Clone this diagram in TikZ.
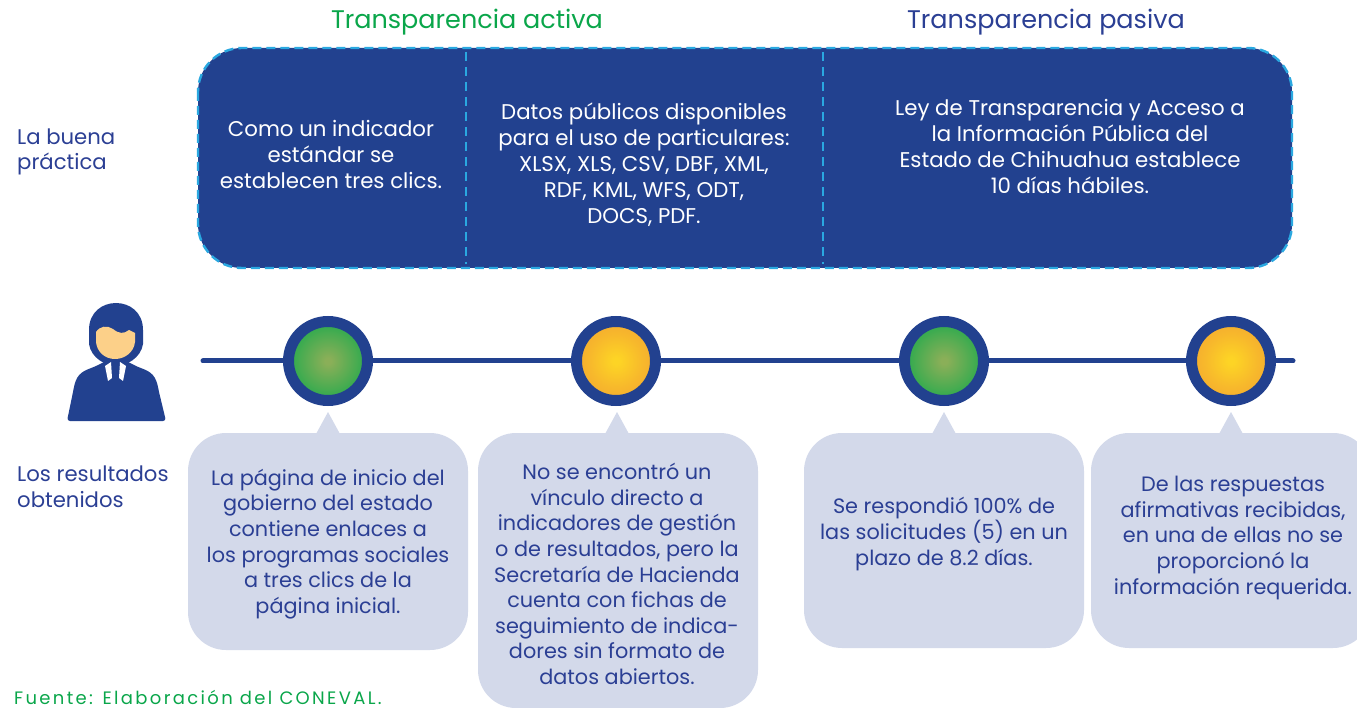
\documentclass[tikz,border=0pt]{standalone}
\usepackage{fontspec}
\setmainfont{Poppins}
\definecolor{dblue}{HTML}{22418F}
\definecolor{txtblue}{HTML}{2B3F94}
\definecolor{dashblue}{HTML}{2AA8E0}
\definecolor{bubfill}{HTML}{D3D9EA}
\definecolor{hgreen}{HTML}{0AA64A}
\definecolor{peach}{HTML}{FCD089}
\definecolor{gcen}{HTML}{8AAF58}
\definecolor{gmid}{HTML}{4CAC51}
\definecolor{gedge}{HTML}{06A84C}
\definecolor{ocen}{HTML}{FDD425}
\definecolor{omid}{HTML}{F7B82C}
\definecolor{oedge}{HTML}{F2A131}
\pgfdeclareradialshading{greenball}{\pgfpoint{0bp}{0bp}}{color(0bp)=(gcen);color(2bp)=(gcen);color(17bp)=(gmid);color(33bp)=(gedge);color(70bp)=(gedge)}
\pgfdeclareradialshading{orangeball}{\pgfpoint{0bp}{0bp}}{color(0bp)=(ocen);color(2bp)=(ocen);color(17bp)=(omid);color(33bp)=(oedge);color(70bp)=(oedge)}
\tikzset{
  heading/.style={inner sep=0pt, font=\fontsize{25.5}{30}\selectfont},
  boxtext/.style={inner sep=0pt, text=white, align=center, font=\fontsize{21.3}{26}\selectfont},
  bubtext/.style={inner sep=0pt, text=txtblue, align=center, font=\fontsize{20.8}{25.6}\selectfont},
  sidelabel/.style={inner sep=0pt, text=txtblue, align=left, anchor=west, font=\fontsize{21.2}{25.5}\selectfont},
  divider/.style={draw=dashblue, line width=2.4pt, dash pattern=on 9pt off 6pt},
  ball/.style={circle, minimum size=79pt, inner sep=0pt, draw=dblue, line width=11pt},
  bubble/.style={fill=bubfill, rounded corners=38pt},
  tip/.style={fill=bubfill},
}
\begin{document}
\begin{tikzpicture}[x=1pt, y=-1pt]
\useasboundingbox (0,0) rectangle (1357,708);
% headings
\node[heading, text=hgreen] (hact) at (467,22) {Transparencia activa};
\node[heading, text=txtblue] (hpas) at (1046,22) {Transparencia pasiva};
% big box
\draw[fill=dblue, draw=dashblue, line width=2.4pt, dash pattern=on 9pt off 5pt, rounded corners=44pt] (198,48) rectangle (1292,268);
\coordinate (d1t) at (466,52); \coordinate (d1b) at (466,264);
\coordinate (d2t) at (823,52); \coordinate (d2b) at (823,264);
\draw[divider] (d1t) -- (d1b);
\draw[divider] (d2t) -- (d2b);
\node[boxtext] (t1) at (331,154) {Como un indicador\\estándar se\\establecen tres clics.};
\node[boxtext] (t2) at (644,165) {Datos públicos disponibles\\para el uso de particulares:\\XLSX, XLS, CSV, DBF, XML,\\RDF, KML, WFS, ODT,\\DOCS, PDF.};
\node[boxtext] (t3) at (1070,146) {Ley de Transparencia y Acceso a\\la Información Pública del\\Estado de Chihuahua establece\\10 días hábiles.};
% side labels
\node[sidelabel] (lbp) at (17,152) {La buena\\práctica};
\node[sidelabel] (lro) at (17,487) {Los resultados\\obtenidos};
% person icon
\fill[dblue, rounded corners=3pt] (67,421) -- (73,392) .. controls (76,376) and (80,372) .. (94,367) -- (108,360) -- (124,360) -- (138,367) .. controls (152,372) and (156,376) .. (159,392) -- (166,421) -- cycle;
\fill[dblue] (89,330) .. controls (89,294) and (143,294) .. (143,330) -- (143,344) .. controls (141,358) and (126,366) .. (116,366) .. controls (106,366) and (91,358) .. (89,344) -- cycle;
\fill[peach] (96,332) .. controls (100,326) and (107,325) .. (113,329) .. controls (119,334) and (124,334) .. (129,330) -- (135,333) -- (135,342) .. controls (134,352) and (125,359) .. (115,359) .. controls (105,359) and (97,352) .. (96,342) -- cycle;
\fill[white] (105,366) -- (111,362) -- (112,378) -- (108,381) -- cycle;
\fill[white] (126,366) -- (120,362) -- (119,378) -- (123,381) -- cycle;
% timeline
\coordinate (tlA) at (203,361); \coordinate (tlB) at (1293,361);
\draw[dblue, line width=5pt, line cap=round] (tlA) -- (tlB);
\node[ball, shading=greenball] (c1) at (328,361) {};
\node[ball, shading=orangeball] (c2) at (616,361) {};
\node[ball, shading=greenball] (c3) at (944,361) {};
\node[ball, shading=orangeball] (c4) at (1231,361) {};
% bubbles
\fill[bubble] (188,433) rectangle (468,650);
\fill[tip] (316,434) -- (328,412) -- (340,434) -- cycle;
\fill[bubble] (478,433) rectangle (758,708);
\fill[tip] (605,434) -- (617,412) -- (629,434) -- cycle;
\fill[bubble] (804,433) rectangle (1084,648);
\fill[tip] (932,434) -- (944,412) -- (956,434) -- cycle;
\begin{scope}
\clip (0,0) rectangle (1357,708);
\fill[bubble] (1091,433) rectangle (1371,648);
\end{scope}
\fill[tip] (1219,434) -- (1231,412) -- (1243,434) -- cycle;
\node[bubtext] (b1) at (328,544) {La página de inicio del\\gobierno del estado\\contiene enlaces a\\los programas sociales\\a tres clics de la\\página inicial.};
\node[bubtext] (b2) at (617,574) {No se encontró un\\vínculo directo a\\indicadores de gestión\\o de resultados, pero la\\Secretaría de Hacienda\\cuenta con fichas de\\seguimiento de indica-\\dores sin formato de\\datos abiertos.};
\node[bubtext] (b3) at (944,534) {Se respondió 100\% de\\las solicitudes (5) en un\\plazo de 8.2 días.};
\node[bubtext] (b4) at (1233,538) {De las respuestas\\afirmativas recibidas,\\en una de ellas no se\\proporcionó la\\información requerida.};
% source
\node[inner sep=0pt, anchor=west, text=hgreen, font=\fontsize{18}{22}\selectfont\addfontfeature{LetterSpace=13}] (src) at (14,697) {Fuente: Elaboración del CONEVAL.};
\end{tikzpicture}
\end{document}
